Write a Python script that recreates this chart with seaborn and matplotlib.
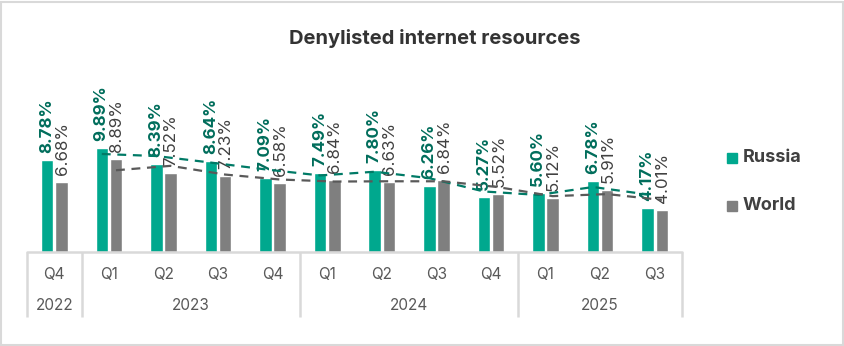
import matplotlib
matplotlib.use("Agg")
import matplotlib.pyplot as plt
import matplotlib.transforms as mtransforms
from matplotlib.patches import Rectangle
import pandas as pd
import seaborn as sns

# Quarterly share of users who hit denylisted internet resources (%)
quarters = ["Q4", "Q1", "Q2", "Q3", "Q4", "Q1", "Q2", "Q3", "Q4", "Q1", "Q2", "Q3"]
years = ["2022", "2023", "2023", "2023", "2023", "2024", "2024", "2024", "2024",
         "2025", "2025", "2025"]
russia = [8.78, 9.89, 8.39, 8.64, 7.09, 7.49, 7.80, 6.26, 5.27, 5.60, 6.78, 4.17]
world = [6.68, 8.89, 7.52, 7.23, 6.58, 6.84, 6.63, 6.84, 5.52, 5.12, 5.91, 4.01]
series_names = ["Russia", "World"]
year_groups = ["2022", "2023", "2024", "2025"]

GREEN = "#00A88E"
GREEN_TEXT = "#006D5B"
GREY = "#7F7F7F"
GREY_TEXT = "#404040"
AXIS_GREY = "#D9D9D9"

sns.set_theme(style="white")
plt.rcParams["font.family"] = ["Inter", "DejaVu Sans"]

periods = [f"{y} {q}" for y, q in zip(years, quarters)]
df = pd.DataFrame({
    "period": periods * 2,
    "value": russia + world,
    "series": [series_names[0]] * len(russia) + [series_names[1]] * len(world),
})

W, H = 845, 346
fig = plt.figure(figsize=(W / 100, H / 100), dpi=100)
ax_left, ax_right = 27, 682
ax_bottom, ax_top = 252, 42
ax = fig.add_axes([ax_left / W, 1 - ax_bottom / H,
                   (ax_right - ax_left) / W, (ax_bottom - ax_top) / H])

sns.barplot(data=df, x="period", y="value", hue="series", order=periods,
            hue_order=series_names, palette=[GREEN, GREY], width=0.52, gap=0.12,
            dodge=True, legend=False, ax=ax, saturation=1)

ax.set_ylim(0, 20)
ax.set_xlim(-0.5, len(periods) - 0.5)
sns.despine(ax=ax, left=True, bottom=True, top=True, right=True)
ax.set_xticks([])
ax.set_yticks([])
ax.set_xlabel("")
ax.set_ylabel("")

# value labels above the bars
off = 0.13
for i, (r, w) in enumerate(zip(russia, world)):
    ax.annotate(f"{r:.2f}%", (i - off, r), xytext=(-0.5, 5), textcoords="offset points",
                rotation=90, ha="center", va="bottom", fontsize=12.2,
                fontweight="bold", color=GREEN_TEXT)
    ax.annotate(f"{w:.2f}%", (i + off, w), xytext=(0.5, 5), textcoords="offset points",
                rotation=90, ha="center", va="bottom", fontsize=12.2,
                color=GREY_TEXT)

# two-period moving-average trendlines
xs = list(range(len(periods)))
r_ma = pd.Series(russia).rolling(2).mean()
w_ma = pd.Series(world).rolling(2).mean()
ax.plot([x - off for x in xs[1:]], r_ma[1:], color="#007A66", lw=1.6,
        dashes=(4, 3), zorder=3)
ax.plot([x + off for x in xs[1:]], w_ma[1:], color="#595959", lw=1.6,
        dashes=(4, 3), zorder=3)

# two-level category axis drawn as a table
trans = mtransforms.blended_transform_factory(ax.transData, ax.transAxes)
px = 1 / (ax_bottom - ax_top)
ax.plot([-0.5, len(periods) - 0.5], [0, 0], transform=trans, color=AXIS_GREY,
        lw=1.8, clip_on=False, zorder=4)
bounds = [-0.5]
for k in range(1, len(years)):
    if years[k] != years[k - 1]:
        bounds.append(k - 0.5)
bounds.append(len(years) - 0.5)
for b in bounds:
    ax.plot([b, b], [0, -65 * px], transform=trans, color=AXIS_GREY, lw=1.8,
            clip_on=False, solid_capstyle="butt")
for i, q in enumerate(quarters):
    ax.text(i, -22 * px, q, transform=trans, ha="center", va="center",
            fontsize=11, color="#595959")
for y0, y1, label in zip(bounds[:-1], bounds[1:], year_groups):
    ax.text((y0 + y1) / 2, -54 * px, label, transform=trans, ha="center",
            va="center", fontsize=11, color="#595959")

# legend
for yy, name, col in [(158, "Russia", GREEN), (206, "World", GREY)]:
    fig.patches.append(Rectangle(((727) / W, 1 - (yy + 5) / H), 10 / W, 10 / H,
                                 transform=fig.transFigure, color=col))
    fig.text(743 / W, 1 - yy / H, name, ha="left", va="center", fontsize=13,
             fontweight="bold", color=GREY_TEXT)

fig.text(435 / W, 1 - 38 / H, "Denylisted internet resources", ha="center",
         va="center", fontsize=14.5, fontweight="bold", color="#333333")

# light frame around the whole figure
fig.patches.append(Rectangle((0.5 / W, 1 / H), 1 - 2 / W, 1 - 2.5 / H,
                             transform=fig.transFigure, fill=False,
                             edgecolor=AXIS_GREY, lw=1.5))

fig.savefig("out.png", dpi=100, facecolor="white")
